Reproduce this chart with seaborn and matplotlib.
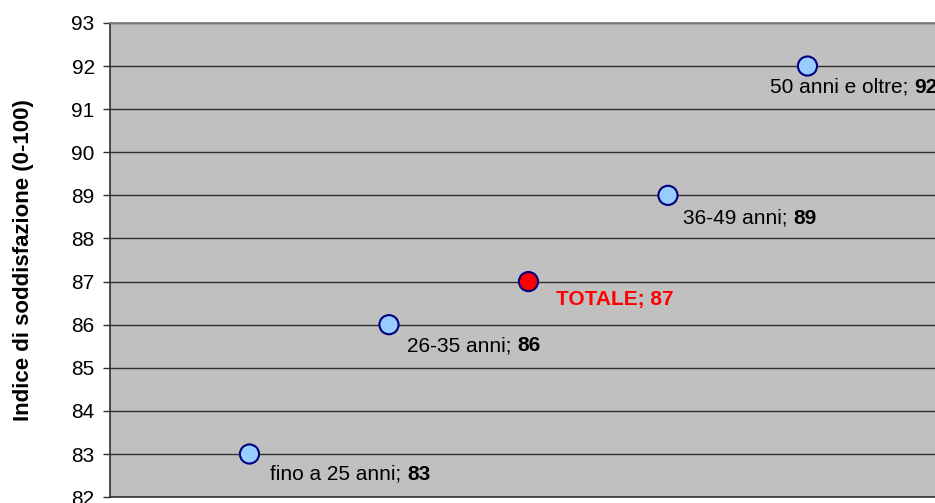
import matplotlib
matplotlib.use("Agg")
import matplotlib.pyplot as plt
import seaborn as sns
import pandas as pd

# Satisfaction index by age group (0-100)
groups = ["fino a 25 anni", "26-35 anni", "TOTALE", "36-49 anni", "50 anni e oltre"]
positions = [1, 2, 3, 4, 5]
scores = [83, 86, 87, 89, 92]
y_ticks = list(range(82, 94))

# label offsets in pixels (dx, dy) from each point
label_offsets = [(21, -20), (18, -21), (28, -18), (15, -23), (-37, -21)]

df = pd.DataFrame({"gruppo": groups, "pos": positions, "indice": scores})

sns.set_theme(style="white")
plt.rcParams["font.family"] = ["Liberation Sans", "DejaVu Sans"]

fig = plt.figure(figsize=(9.35, 5.03), dpi=100)
ax = fig.add_axes([0.1176, 0.0117, 0.8952, 0.9427])
ax.set_facecolor("#C0C0C0")

palette = {g: ("#FF0000" if g == "TOTALE" else "#99CCFF") for g in groups}
sns.scatterplot(data=df, x="pos", y="indice", hue="gruppo", palette=palette,
                s=190, edgecolor="#000080", linewidth=1.5, legend=False,
                ax=ax, zorder=3)

ax.set_xlim(0, 6)
ax.set_ylim(82, 93)
ax.set_yticks(y_ticks)
ax.set_yticklabels([str(v) for v in y_ticks], fontsize=15, color="black")
ax.set_xticks([])
ax.set_xlabel("")
ax.set_ylabel("Indice di soddisfazione (0-100)", fontsize=16,
              fontweight="bold", labelpad=27, color="black")

ax.yaxis.grid(True, color="#303030", linewidth=1.0)
ax.set_axisbelow(True)
ax.tick_params(axis="y", direction="out", length=5, width=1,
               color="#303030", pad=6, left=True)
for side in ["left", "bottom"]:
    ax.spines[side].set_color("#303030")
    ax.spines[side].set_linewidth(1.2)
ax.spines["top"].set_color("#808080")
ax.spines["right"].set_color("#808080")

for g, x, y, (dx, dy) in zip(groups, positions, scores, label_offsets):
    if g == "TOTALE":
        ax.annotate(f"{g}; {y}", xy=(x, y), xytext=(dx, dy),
                    textcoords="offset pixels", ha="left", va="center",
                    fontsize=15, fontweight="bold", color="#FF0000")
    else:
        t = ax.annotate(f"{g}; ", xy=(x, y), xytext=(dx, dy),
                        textcoords="offset pixels", ha="left", va="center",
                        fontsize=15, color="black")
        ax.annotate(f"{y}", xy=(1, 0.5), xycoords=t, ha="left", va="center",
                    fontsize=15, fontweight="bold", color="black")

fig.savefig("out.png", dpi=100)
